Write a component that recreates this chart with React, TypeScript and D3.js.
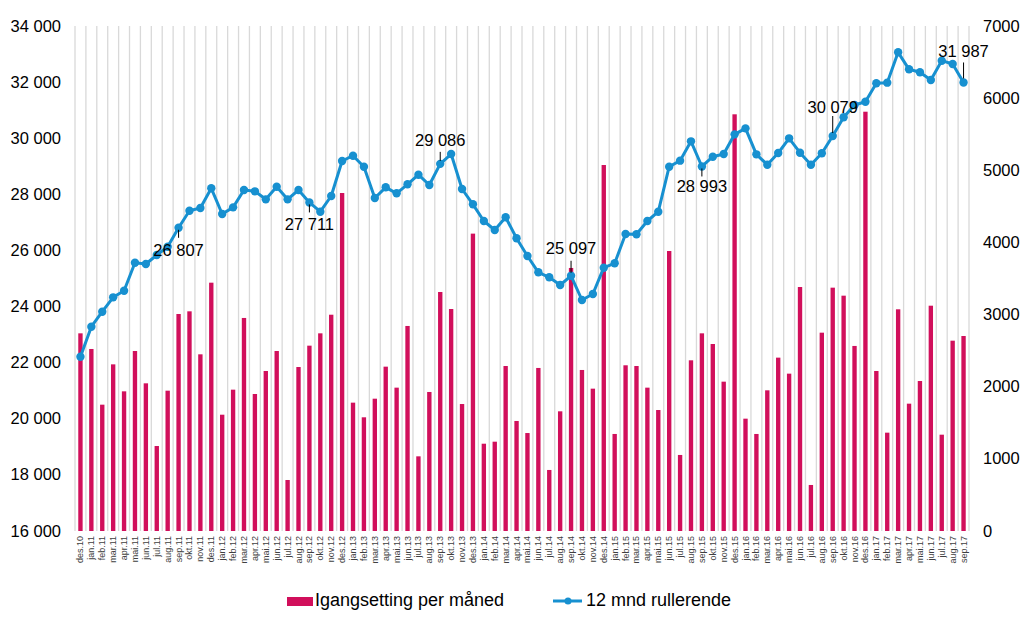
import React from "react";
import * as d3 from "d3";

const months: string[] = [
  "des.10",
  "jan.11","feb.11","mar.11","apr.11","mai.11","jun.11","jul.11","aug.11","sep.11","okt.11","nov.11","des.11",
  "jan.12","feb.12","mar.12","apr.12","mai.12","jun.12","jul.12","aug.12","sep.12","okt.12","nov.12","des.12",
  "jan.13","feb.13","mar.13","apr.13","mai.13","jun.13","jul.13","aug.13","sep.13","okt.13","nov.13","des.13",
  "jan.14","feb.14","mar.14","apr.14","mai.14","jun.14","jul.14","aug.14","sep.14","okt.14","nov.14","des.14",
  "jan.15","feb.15","mar.15","apr.15","mai.15","jun.15","jul.15","aug.15","sep.15","okt.15","nov.15","des.15",
  "jan.16","feb.16","mar.16","apr.16","mai.16","jun.16","jul.16","aug.16","sep.16","okt.16","nov.16","des.16",
  "jan.17","feb.17","mar.17","apr.17","mai.17","jun.17","jul.17","aug.17","sep.17",
];

// Igangsetting per måned (right axis)
const monthly: number[] = [
  2740,
  2523,1751,2310,1936,2495,2047,1178,1945,3008,3045,2449,3442,
  1612,1959,2953,1899,2218,2495,707,2273,2569,2740,2998,4685,
  1779,1576,1834,2278,1987,2842,1035,1927,3313,3077,1760,4122,
  1210,1238,2287,1525,1358,2260,846,1659,3646,2232,1973,5073,
  1345,2297,2287,1987,1677,3881,1054,2366,2740,2592,2070,5776,
  1557,1345,1950,2403,2181,3382,638,2749,3373,3262,2565,5812,
  2218,1363,3073,1765,2079,3123,1335,2638,2703,
];

// 12 mnd rullerende (left axis)
const rolling: number[] = [
  22213,
  23282,23817,24329,24566,25563,25517,25838,26134,26807,27417,27513,28215,
  27299,27536,28154,28107,27822,28272,27822,28154,27711,27381,27940,29188,
  29377,28985,27869,28250,28036,28357,28700,28333,29086,29437,28190,27644,
  27049,26728,27181,26433,25802,25221,25043,24768,25097,24234,24447,25385,
  25541,26586,26575,27049,27381,28985,29200,29889,28993,29342,29437,30138,
  30352,29426,29056,29473,29996,29484,29056,29462,30079,30745,31183,31302,
  31958,31980,33062,32456,32349,32075,32764,32646,31987,
];

const leftTicks: number[] = [16000, 18000, 20000, 22000, 24000, 26000, 28000, 30000, 32000, 34000];
const rightTicks: number[] = [0, 1000, 2000, 3000, 4000, 5000, 6000, 7000];

// annotated points: month label, text offset (dy baseline) and leader span
const annotations = [
  { month: "sep.11", dy: 28, l1: 2, l2: 10 },
  { month: "sep.12", dy: 28, l1: 2, l2: 10 },
  { month: "sep.13", dy: -18, l1: -3, l2: -12 },
  { month: "sep.14", dy: -22, l1: -3, l2: -15 },
  { month: "sep.15", dy: 26, l1: 2, l2: 10 },
  { month: "sep.16", dy: -23, l1: -3, l2: -20 },
  { month: "sep.17", dy: -25, l1: -4, l2: -20 },
];

const barLabel = "Igangsetting per måned";
const lineLabel = "12 mnd rullerende";

const BAR = "#d10f5b";
const LINE = "#1790d0";
const FONT = "'Liberation Sans', Arial, sans-serif";

export default function App() {
  const W = 1024, H = 623;
  const left = 75, right = 969, top = 26, bottom = 531;

  const x = d3.scaleBand<string>().domain(months).range([left, right]).padding(0);
  const bw = x.bandwidth();
  const yL = d3.scaleLinear().domain([16000, 34000]).range([bottom, top]);
  const yR = d3.scaleLinear().domain([0, 7000]).range([bottom, top]);
  const cx = (m: string) => (x(m) as number) + bw / 2;

  const fmtL = (v: number) => d3.format(",")(v).replace(/,/g, " ");

  const lineGen = d3
    .line<number>()
    .x((_, i) => cx(months[i]))
    .y((d) => yL(d));

  const gridXs = months.map((m) => x(m) as number).concat([right]);

  return (
    <svg
      width={W}
      height={H}
      style={{ position: "absolute", left: 0, top: 0, background: "#fff" }}
      fontFamily={FONT}
    >
      <rect x={0} y={0} width={W} height={H} fill="#fff" />
      {/* vertical gridlines */}
      {gridXs.map((gx, i) => (
        <line key={"g" + i} x1={gx} x2={gx} y1={top} y2={bottom} stroke="#d9d9d9" strokeWidth={1.3} />
      ))}
      {/* bars */}
      {monthly.map((v, i) => (
        <rect
          key={"b" + i}
          x={cx(months[i]) - bw * 0.2}
          width={bw * 0.4}
          y={yR(v)}
          height={bottom - yR(v)}
          fill={BAR}
        />
      ))}
      {/* line */}
      <path d={lineGen(rolling) || ""} fill="none" stroke={LINE} strokeWidth={3} strokeLinejoin="round" />
      {rolling.map((v, i) => (
        <circle key={"c" + i} cx={cx(months[i])} cy={yL(v)} r={4.2} fill={LINE} />
      ))}
      {/* annotations */}
      {annotations.map((a) => {
        const i = months.indexOf(a.month);
        const px = cx(a.month);
        const py = yL(rolling[i]);
        return (
          <g key={"a" + a.month}>
            <line x1={px} x2={px} y1={py + a.l1} y2={py + a.l2} stroke="#000" strokeWidth={1} />
            <text x={px} y={py + a.dy} textAnchor="middle" fontSize={16.5} fill="#000">
              {fmtL(rolling[i])}
            </text>
          </g>
        );
      })}
      {/* left axis */}
      {leftTicks.map((t) => (
        <text key={"l" + t} x={61} y={yL(t) + 5.5} textAnchor="end" fontSize={16.5} fill="#000">
          {fmtL(t)}
        </text>
      ))}
      {/* right axis */}
      {rightTicks.map((t) => (
        <text key={"r" + t} x={983} y={yR(t) + 5.5} textAnchor="start" fontSize={16.5} fill="#000">
          {String(t)}
        </text>
      ))}
      {/* month labels */}
      {months.map((m) => (
        <text
          key={"m" + m}
          transform={`translate(${cx(m) + 3},${bottom + 5}) rotate(-90)`}
          textAnchor="end"
          fontSize={9}
          fill="#404040"
        >
          {m}
        </text>
      ))}
      {/* legend */}
      <rect x={287} y={597} width={26} height={9} fill={BAR} />
      <text x={315} y={606} fontSize={18} fill="#000">{barLabel}</text>
      <line x1={553} x2={582} y1={601} y2={601} stroke={LINE} strokeWidth={3} />
      <circle cx={568} cy={601} r={3.5} fill={LINE} />
      <text x={586} y={606} fontSize={18} fill="#000">{lineLabel}</text>
    </svg>
  );
}
